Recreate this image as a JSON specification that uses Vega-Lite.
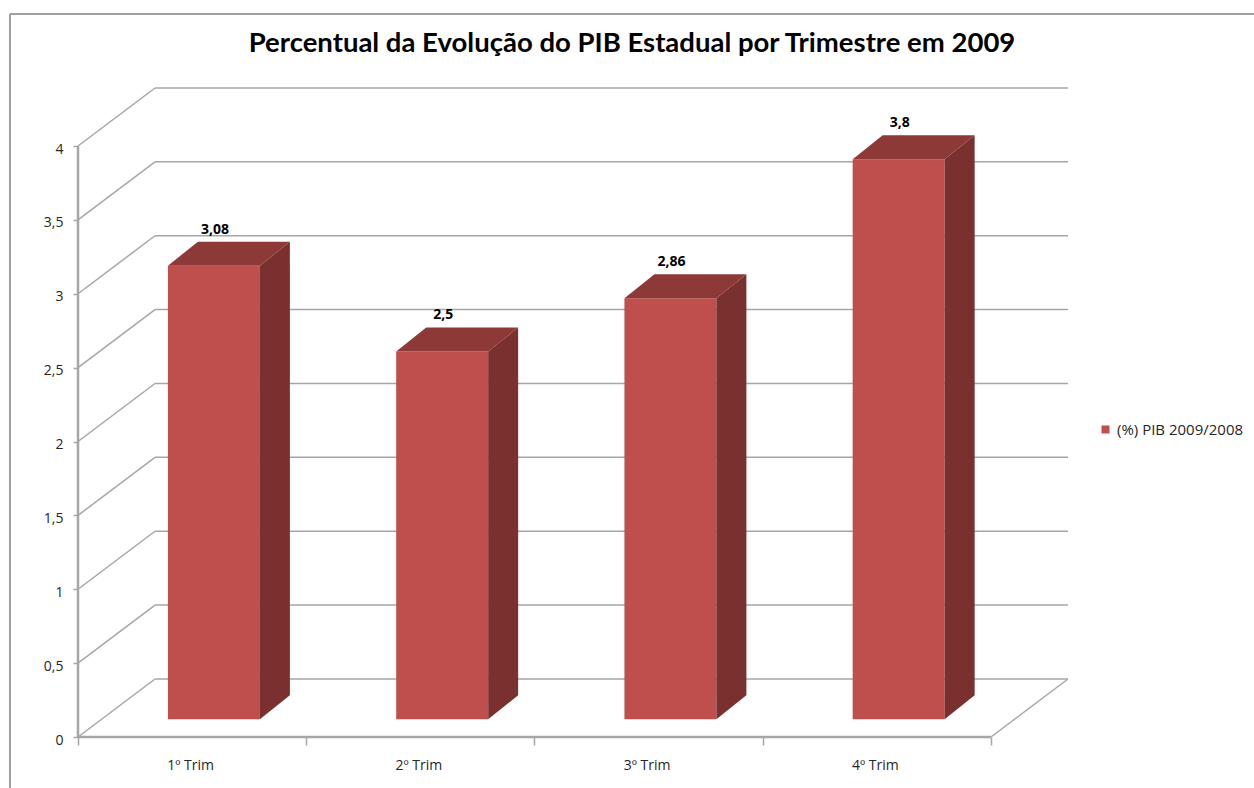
{
  "$schema": "https://vega.github.io/schema/vega-lite/v6.json",
  "width": 990,
  "height": 649,
  "autosize": {"type": "none"},
  "padding": {"left": 78, "top": 88, "right": 186, "bottom": 51},
  "background": "white",
  "config": {
    "view": {"stroke": null},
    "font": "Open Sans",
    "locale": {"number": {"decimal": ",", "thousands": ".", "grouping": [3], "currency": ["R$", ""]}}
  },
  "title": {
    "text": "Percentual da Evolução do PIB Estadual  por Trimestre em 2009",
    "font": "Lato",
    "fontSize": 27.5,
    "fontWeight": "bold",
    "color": "#000000",
    "anchor": "middle",
    "frame": "group",
    "baseline": "alphabetic",
    "offset": 0,
    "dx": 59,
    "dy": 66
  },
  "datasets": {
    "pib": [
      {"trim": "1º Trim", "valor": 3.08},
      {"trim": "2º Trim", "valor": 2.5},
      {"trim": "3º Trim", "valor": 2.86},
      {"trim": "4º Trim", "valor": 3.8}
    ],
    "grid": [
      {"v": 0}, {"v": 0.5}, {"v": 1}, {"v": 1.5}, {"v": 2},
      {"v": 2.5}, {"v": 3}, {"v": 3.5}, {"v": 4}
    ]
  },
  "layer": [
    {
      "data": {"name": "grid"},
      "transform": [{"calculate": "datum.v + 0.3926", "as": "vb"}],
      "mark": {"type": "rule", "color": "#A6A6A6", "strokeWidth": 1.5},
      "encoding": {
        "x": {"datum": 0.3374, "type": "quantitative", "scale": {"domain": [0, 4.3374], "nice": false, "zero": false}},
        "x2": {"datum": 4.3374},
        "y": {"field": "vb", "type": "quantitative", "scale": {"domain": [0, 4.3926], "nice": false, "zero": false}},
        "y2": {"field": "vb"}
      }
    },
    {
      "data": {"name": "grid"},
      "transform": [{"calculate": "datum.v + 0.3926", "as": "vb"}],
      "mark": {"type": "rule", "color": "#A6A6A6", "strokeWidth": 1.5},
      "encoding": {
        "x": {"datum": 0, "type": "quantitative", "scale": {"domain": [0, 4.3374], "nice": false, "zero": false}},
        "x2": {"datum": 0.3374},
        "y": {"field": "v", "type": "quantitative", "scale": {"domain": [0, 4.3926], "nice": false, "zero": false}},
        "y2": {"field": "vb"}
      }
    },
    {
      "data": {"values": [{}]},
      "mark": {"type": "rule", "color": "#A6A6A6", "strokeWidth": 1.5},
      "encoding": {
        "x": {"datum": 4, "type": "quantitative", "scale": {"domain": [0, 4.3374], "nice": false, "zero": false}},
        "x2": {"datum": 4.3374},
        "y": {"datum": 0, "type": "quantitative", "scale": {"domain": [0, 4.3926], "nice": false, "zero": false}},
        "y2": {"datum": 0.3926}
      }
    },
    {
      "data": {"values": [{}]},
      "mark": {"type": "rule", "color": "#A6A6A6", "strokeWidth": 2.5},
      "encoding": {
        "x": {"datum": 0, "type": "quantitative", "scale": {"domain": [0, 4.3374], "nice": false, "zero": false}},
        "x2": {"datum": 4},
        "y": {"datum": 0, "type": "quantitative", "scale": {"domain": [0, 4.3926], "nice": false, "zero": false}}
      }
    },
    {
      "data": {"values": [{}]},
      "mark": {"type": "rule", "color": "#A6A6A6", "strokeWidth": 2.5},
      "encoding": {
        "x": {"datum": 0, "type": "quantitative", "scale": {"domain": [0, 4.3374], "nice": false, "zero": false}},
        "y": {"datum": 0, "type": "quantitative", "scale": {"domain": [0, 4.3926], "nice": false, "zero": false}},
        "y2": {"datum": 4}
      }
    },
    {
      "data": {"name": "pib"},
      "transform": [
        {"window": [{"op": "row_number", "as": "i"}]},
        {"calculate": "datum.i - 1 + 0.394", "as": "xl"},
        {"calculate": "datum.i - 1 + 0.797", "as": "xr"},
        {"calculate": "datum.valor + 0.11", "as": "yt"}
      ],
      "mark": {"type": "rect"},
      "encoding": {
        "x": {
          "field": "xl", "type": "quantitative",
          "scale": {"domain": [0, 4.3374], "nice": false, "zero": false},
          "axis": {
            "title": null,
            "values": [0, 0.5, 1, 1.5, 2, 2.5, 3, 3.5, 4],
            "domain": false,
            "grid": false,
            "tickSize": 8,
            "tickColor": "#A6A6A6",
            "tickWidth": 1.5,
            "tickOpacity": {"condition": {"test": "datum.value % 1 === 0", "value": 1}, "value": 0},
            "labelExpr": "datum.value % 1 === 0.5 ? ['1º Trim','2º Trim','3º Trim','4º Trim'][floor(datum.value)] : ''",
            "labelFont": "Open Sans",
            "labelFontSize": 14,
            "labelColor": "#262626",
            "labelPadding": 13,
            "labelOffset": -2,
            "labelFlush": false,
            "labelOverlap": false
          }
        },
        "x2": {"field": "xr"},
        "y": {
          "field": "yt", "type": "quantitative",
          "scale": {"domain": [0, 4.3926], "nice": false, "zero": false},
          "axis": {
            "title": null,
            "values": [0, 0.5, 1, 1.5, 2, 2.5, 3, 3.5, 4],
            "format": "~g",
            "domain": false,
            "grid": false,
            "tickSize": 5,
            "tickColor": "#A6A6A6",
            "tickWidth": 1.5,
            "labelFont": "Open Sans",
            "labelFontSize": 14,
            "labelColor": "#262626",
            "labelPadding": 10,
            "labelOffset": 3
          }
        },
        "y2": {"datum": 0.12},
        "color": {
          "datum": "(%) PIB 2009/2008", "type": "nominal",
          "scale": {"range": ["#BE4F4C"]},
          "legend": {
            "orient": "none",
            "legendX": 1020,
            "legendY": 334,
            "title": null,
            "padding": 0,
            "symbolType": "square",
            "symbolSize": 64,
            "symbolStrokeWidth": 0,
            "labelFont": "Open Sans",
            "labelFontSize": 15,
            "labelColor": "#262626"
          }
        }
      }
    },
    {
      "data": {"name": "pib"},
      "transform": [
        {"window": [{"op": "row_number", "as": "i"}]},
        {"calculate": "datum.i - 1 + 0.797", "as": "xr"},
        {"calculate": "datum.valor + 0.11", "as": "yt"},
        {"calculate": "[0, 1]", "as": "p"},
        {"flatten": ["p"]},
        {"calculate": "datum.xr + datum.p * 0.1314", "as": "sx"},
        {"calculate": "datum.yt + datum.p * 0.1624", "as": "sy"},
        {"calculate": "0.12 + datum.p * 0.1624", "as": "sy2"}
      ],
      "mark": {"type": "area", "orient": "vertical", "color": "#7A302F"},
      "encoding": {
        "x": {"field": "sx", "type": "quantitative", "scale": {"domain": [0, 4.3374], "nice": false, "zero": false}},
        "y": {"field": "sy", "type": "quantitative", "scale": {"domain": [0, 4.3926], "nice": false, "zero": false}},
        "y2": {"field": "sy2"},
        "detail": {"field": "trim"}
      }
    },
    {
      "data": {"name": "pib"},
      "transform": [
        {"window": [{"op": "row_number", "as": "i"}]},
        {"calculate": "datum.i - 1 + 0.394", "as": "xl"},
        {"calculate": "datum.i - 1 + 0.797", "as": "xr"},
        {"calculate": "datum.valor + 0.11", "as": "yt"},
        {"calculate": "[0, 1]", "as": "p"},
        {"flatten": ["p"]},
        {"calculate": "datum.xl + datum.p * 0.1314", "as": "tx"},
        {"calculate": "datum.xr + datum.p * 0.1314", "as": "tx2"},
        {"calculate": "datum.yt + datum.p * 0.1624", "as": "ty"}
      ],
      "mark": {"type": "area", "orient": "horizontal", "color": "#8C3937"},
      "encoding": {
        "y": {"field": "ty", "type": "quantitative", "scale": {"domain": [0, 4.3926], "nice": false, "zero": false}},
        "x": {"field": "tx", "type": "quantitative", "scale": {"domain": [0, 4.3374], "nice": false, "zero": false}},
        "x2": {"field": "tx2"},
        "detail": {"field": "trim"}
      }
    },
    {
      "data": {"name": "pib"},
      "transform": [
        {"window": [{"op": "row_number", "as": "i"}]},
        {"calculate": "datum.i - 1 + 0.60", "as": "lx"},
        {"calculate": "datum.valor + 0.11 + 0.1624", "as": "ly"}
      ],
      "mark": {"type": "text", "font": "Open Sans", "fontSize": 14, "fontWeight": "bold", "color": "#000000", "baseline": "middle", "align": "center", "dy": -12},
      "encoding": {
        "x": {"field": "lx", "type": "quantitative", "scale": {"domain": [0, 4.3374], "nice": false, "zero": false}},
        "y": {"field": "ly", "type": "quantitative", "scale": {"domain": [0, 4.3926], "nice": false, "zero": false}},
        "text": {"field": "valor", "type": "quantitative", "format": "~g"}
      }
    },
    {
      "data": {"values": [{}]},
      "mark": {"type": "rule", "color": "#A0A0A0", "strokeWidth": 2},
      "encoding": {
        "x": {"datum": -0.298, "type": "quantitative", "scale": {"domain": [0, 4.3374], "nice": false, "zero": false}},
        "x2": {"datum": 5.16},
        "y": {"datum": 4.893, "type": "quantitative", "scale": {"domain": [0, 4.3926], "nice": false, "zero": false}}
      }
    },
    {
      "data": {"values": [{}]},
      "mark": {"type": "rule", "color": "#A0A0A0", "strokeWidth": 2},
      "encoding": {
        "x": {"datum": -0.298, "type": "quantitative", "scale": {"domain": [0, 4.3374], "nice": false, "zero": false}},
        "y": {"datum": 4.893, "type": "quantitative", "scale": {"domain": [0, 4.3926], "nice": false, "zero": false}},
        "y2": {"datum": -0.36}
      }
    }
  ]
}
